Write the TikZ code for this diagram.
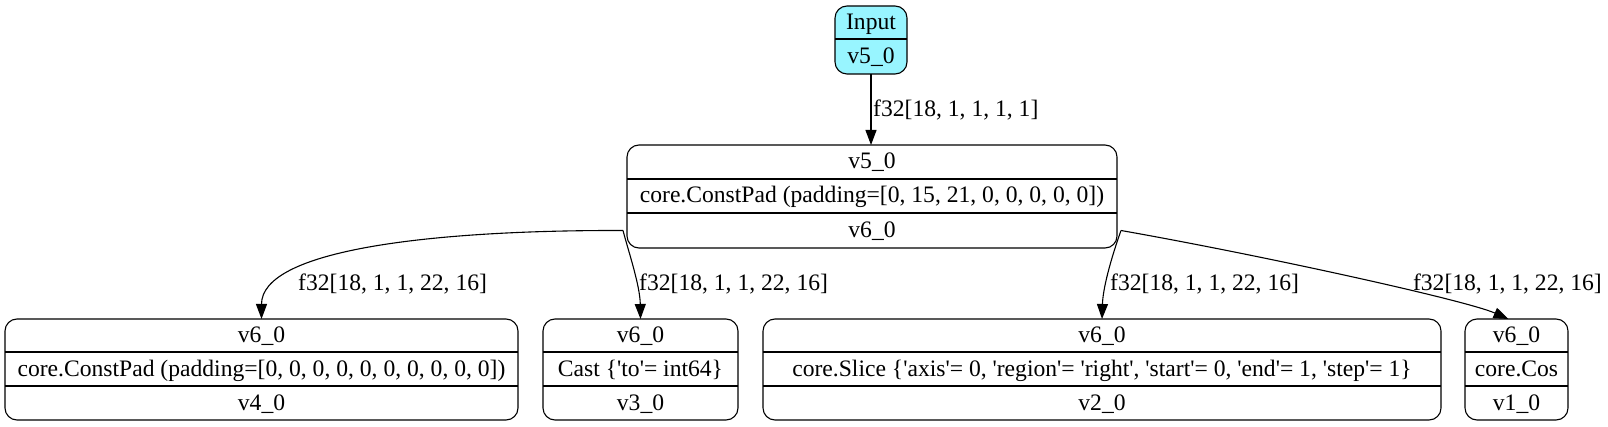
\documentclass[tikz,border=0pt]{standalone}
\usepackage{fontspec}
\setmainfont{Liberation Serif}[Ligatures=TeXOff]
\usetikzlibrary{arrows.meta}
\definecolor{cadet}{HTML}{98F5FF}
\tikzset{
 rec/.style={draw, line width=1.1pt, rounded corners=12pt, inner sep=0pt, outer sep=0pt},
 txt/.style={inner sep=0pt, anchor=base, font=\fontsize{23.6}{28}\selectfont},
 lbl/.style={inner sep=0pt, anchor=base west, font=\fontsize{23.6}{28}\selectfont},
 edge/.style={line width=1.1pt, -{Triangle[length=15pt,width=11pt]}},
 divline/.style={line width=1.1pt}
}
\begin{document}
\begin{tikzpicture}[x=1pt,y=-1pt]
\useasboundingbox (0,0) rectangle (1608,427);
% Input
\node[rec, fill=cadet, minimum width=72pt, minimum height=68pt] (in) at (871,40) {};
\draw[divline] (in.west |- 0,39) -- (in.east |- 0,39);
\node[txt] (in1) at (871,29.5) {Input};
\node[txt] (in2) at (871,63.5) {v5\_0};
% ConstPad top
\node[rec, minimum width=490pt, minimum height=103pt] (cp) at (872,196.5) {};
\draw[divline] (cp.west |- 0,179) -- (cp.east |- 0,179);
\draw[divline] (cp.west |- 0,213) -- (cp.east |- 0,213);
\node[txt] (cp1) at (872,169) {v5\_0};
\node[txt] (cp2) at (872,203) {core.ConstPad (padding=[0, 15, 21, 0, 0, 0, 0, 0])};
\node[txt] (cp3) at (872,237.5) {v6\_0};
\coordinate (cpL) at ([xshift=-4pt]cp.west |- 0,230.5);
\coordinate (cpR) at ([xshift=4pt]cp.east |- 0,230.5);
% bottom A
\node[rec, minimum width=513pt, minimum height=101pt] (a) at (261.5,369.5) {};
\draw[divline] (a.west |- 0,352) -- (a.east |- 0,352);
\draw[divline] (a.west |- 0,386) -- (a.east |- 0,386);
\node[txt] (a1) at (261.5,342.5) {v6\_0};
\node[txt] (a2) at (261.5,376) {core.ConstPad (padding=[0, 0, 0, 0, 0, 0, 0, 0, 0, 0])};
\node[txt] (a3) at (261.5,410) {v4\_0};
% bottom B
\node[rec, minimum width=195pt, minimum height=101pt] (b) at (640.5,369.5) {};
\draw[divline] (b.west |- 0,352) -- (b.east |- 0,352);
\draw[divline] (b.west |- 0,386) -- (b.east |- 0,386);
\node[txt] (b1) at (640.5,342.5) {v6\_0};
\node[txt] (b2) at (640.5,376) {Cast \{'to'= int64\}};
\node[txt] (b3) at (640.5,410) {v3\_0};
% bottom C
\node[rec, minimum width=678pt, minimum height=101pt] (c) at (1102,369.5) {};
\draw[divline] (c.west |- 0,352) -- (c.east |- 0,352);
\draw[divline] (c.west |- 0,386) -- (c.east |- 0,386);
\node[txt] (c1) at (1102,342.5) {v6\_0};
\node[txt] (c2) at (1102,376) {core.Slice \{'axis'= 0, 'region'= 'right', 'start'= 0, 'end'= 1, 'step'= 1\}};
\node[txt] (c3) at (1102,410) {v2\_0};
% bottom D
\node[rec, minimum width=103pt, minimum height=101pt] (d) at (1516.5,369.5) {};
\draw[divline] (d.west |- 0,352) -- (d.east |- 0,352);
\draw[divline] (d.west |- 0,386) -- (d.east |- 0,386);
\node[txt] (d1) at (1516.5,342.5) {v6\_0};
\node[txt] (d2) at (1516.5,376) {core.Cos};
\node[txt] (d3) at (1516.5,410) {v1\_0};
% edges
\draw[edge] (in.south) -- (in.south |- cp.north);
\draw[edge] (cpL) .. controls (430,230) and (261.5,250) .. (a.north);
\draw[edge] (cpL) .. controls (628,250) and (640,285) .. (b.north);
\draw[edge] (cpR) .. controls (1114,250) and (1103,285) .. (c.north);
\draw[edge] (cpR) .. controls (1260,255) and (1465,300) .. ([xshift=-8pt]d.north);
% labels
\node[lbl] (l0) at (873,117) {f32[18, 1, 1, 1, 1]};
\node[lbl] (l1) at (298,291) {f32[18, 1, 1, 22, 16]};
\node[lbl] (l2) at (639,291) {f32[18, 1, 1, 22, 16]};
\node[lbl] (l3) at (1110,291) {f32[18, 1, 1, 22, 16]};
\node[lbl, anchor=base east] (l4) at (1602,291) {f32[18, 1, 1, 22, 16]};
\end{tikzpicture}
\end{document}
